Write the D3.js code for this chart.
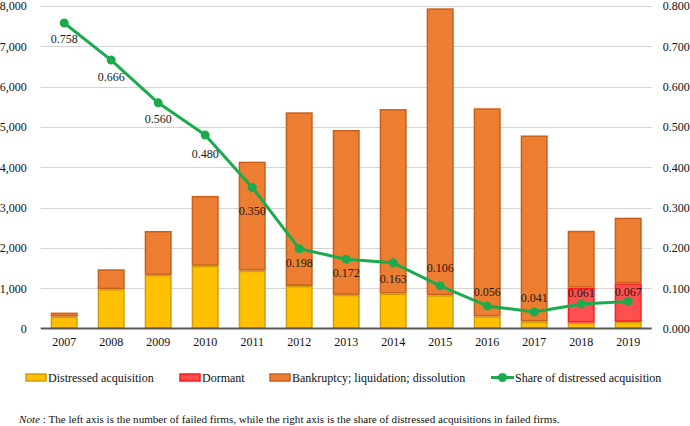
<!DOCTYPE html>
<html>
<head>
<meta charset="utf-8">
<script src="https://cdn.jsdelivr.net/npm/d3@7"></script>
<style>
  html, body { margin: 0; padding: 0; background: #fff; }
  svg { display: block; font-family: "Liberation Serif", "Times New Roman", serif; }
</style>
</head>
<body>
<svg id="chart" width="690" height="426"></svg>
<script>
// ---- data ----
const years = ["2007","2008","2009","2010","2011","2012","2013","2014","2015","2016","2017","2018","2019"];
const distressedAcquisition = [295, 975, 1330, 1555, 1435, 1055, 835, 865, 825, 300, 175, 145, 165];
const dormant = [0, 0, 0, 0, 0, 0, 0, 0, 0, 0, 0, 870, 955];
const bankruptcy = [100, 495, 1090, 1735, 2705, 4310, 4090, 4580, 7120, 5165, 4615, 1410, 1630];
const shareDistressed = [0.758, 0.666, 0.560, 0.480, 0.350, 0.198, 0.172, 0.163, 0.106, 0.056, 0.041, 0.061, 0.067];
const leftTicks = [0, 1000, 2000, 3000, 4000, 5000, 6000, 7000, 8000];
const rightTicks = [0, 0.1, 0.2, 0.3, 0.4, 0.5, 0.6, 0.7, 0.8];
const seriesNames = ["Distressed acquisition", "Dormant", "Bankruptcy; liquidation; dissolution"];
const lineName = "Share of distressed acquisition";

// ---- layout / style ----
const svg = d3.select("#chart");
const plot = { left: 40.7, right: 651.7, top: 6.1, bottom: 328.5 };
const fills = ["#FFC000", "#FF5050", "#ED7D31"];
const strokes = ["#D09E0A", "#FF1A1A", "#C8601C"];
const green = "#1CAB4C";
const fontFam = "'Liberation Serif', 'Times New Roman', serif";
// label vertical offsets (px, from marker centre to label centre)
const labelDy = [16, 17, 16, 19, 23, 14, 14, 16, -18, -14, -14, -11, -10];

const x = d3.scaleBand().domain(years).range([plot.left, plot.right]).paddingInner(0.425).paddingOuter(0.2125);
const yL = d3.scaleLinear().domain([0, 8000]).range([plot.bottom, plot.top]);
const yR = d3.scaleLinear().domain([0, 0.8]).range([plot.bottom, plot.top]);

// gridlines
svg.append("g").selectAll("line").data(leftTicks.filter(d => d > 0)).join("line")
  .attr("x1", plot.left).attr("x2", plot.right)
  .attr("y1", d => Math.round(yL(d)) + 0.5).attr("y2", d => Math.round(yL(d)) + 0.5)
  .attr("stroke", "#d4d4d4").attr("stroke-width", 1);

// left axis
const axL = svg.append("g").attr("transform", `translate(${plot.left},0)`)
  .call(d3.axisLeft(yL).tickValues(leftTicks).tickFormat(d3.format(",")).tickSize(0).tickPadding(14));
axL.attr("font-family", fontFam);
axL.select(".domain").remove();
axL.selectAll("text").attr("font-size", 12).attr("fill", "#111");

// right axis
const axR = svg.append("g").attr("transform", `translate(${plot.right},0)`)
  .call(d3.axisRight(yR).tickValues(rightTicks).tickFormat(d3.format(".3f")).tickSize(0).tickPadding(11));
axR.attr("font-family", fontFam);
axR.select(".domain").remove();
axR.selectAll("text").attr("font-size", 12).attr("fill", "#111");

// stacked bars
const rows = years.map((yr, i) => ({ year: yr, a: distressedAcquisition[i], d: dormant[i], b: bankruptcy[i] }));
const stack = d3.stack().keys(["a", "d", "b"])(rows);
svg.append("g").selectAll("g").data(stack).join("g")
  .attr("fill", (d, i) => fills[i]).attr("stroke", (d, i) => strokes[i]).attr("stroke-width", 1.5)
  .selectAll("rect").data(d => d.filter(s => s[1] - s[0] > 0)).join("rect")
  .attr("x", d => x(d.data.year) + 0.75)
  .attr("width", x.bandwidth() - 1.5)
  .attr("y", d => yL(d[1]) + 0.75)
  .attr("height", d => Math.max(0, yL(d[0]) - yL(d[1]) - 1.5));

// x axis baseline
svg.append("line").attr("x1", plot.left).attr("x2", plot.right)
  .attr("y1", plot.bottom).attr("y2", plot.bottom)
  .attr("stroke", "#595959").attr("stroke-width", 2);

const axB = svg.append("g").attr("transform", `translate(0,${plot.bottom})`)
  .call(d3.axisBottom(x).tickSize(0).tickPadding(9));
axB.attr("font-family", fontFam);
axB.select(".domain").remove();
axB.selectAll("text").attr("font-size", 12).attr("fill", "#111");

// line
const cx = (d, i) => x(years[i]) + x.bandwidth() / 2;
svg.append("path").datum(shareDistressed)
  .attr("fill", "none").attr("stroke", green).attr("stroke-width", 3).attr("stroke-linejoin", "round")
  .attr("d", d3.line().x(cx).y(d => yR(d)));
svg.append("g").selectAll("circle").data(shareDistressed).join("circle")
  .attr("cx", cx).attr("cy", d => yR(d)).attr("r", 4.5).attr("fill", green);
svg.append("g").selectAll("text").data(shareDistressed).join("text")
  .attr("x", cx).attr("y", (d, i) => yR(d) + labelDy[i])
  .attr("dy", "0.35em").attr("text-anchor", "middle")
  .attr("font-size", 12).attr("fill", "#1a1a1a")
  .text(d => d3.format(".3f")(d));

// legend
const legY = 377.5;
const legItems = [
  { name: seriesNames[0], x: 26, i: 0 },
  { name: seriesNames[1], x: 180, i: 1 },
  { name: seriesNames[2], x: 270, i: 2 }
];
const lg = svg.append("g");
legItems.forEach(it => {
  lg.append("rect").attr("x", it.x).attr("y", legY - 3.5).attr("width", 20).attr("height", 7)
    .attr("fill", fills[it.i]).attr("stroke", strokes[it.i]).attr("stroke-width", 1.5);
  lg.append("text").attr("x", it.x + 22).attr("y", legY).attr("dy", "0.35em")
    .attr("font-size", 12).attr("fill", "#111").text(it.name);
});
lg.append("line").attr("x1", 491).attr("x2", 514).attr("y1", legY).attr("y2", legY)
  .attr("stroke", green).attr("stroke-width", 3);
lg.append("circle").attr("cx", 502.5).attr("cy", legY).attr("r", 4.5).attr("fill", green);
lg.append("text").attr("x", 515).attr("y", legY).attr("dy", "0.35em")
  .attr("font-size", 12).attr("fill", "#111").text(lineName);

// note
const note = svg.append("text").attr("x", 19).attr("y", 419.5).attr("dy", "0.35em")
  .attr("font-size", 11.1).attr("fill", "#111");
note.append("tspan").attr("font-style", "italic").text("Note");
note.append("tspan").text(" : The left axis is the number of failed firms, while the right axis is the share of distressed acquisitions in failed firms.");
</script>
</body>
</html>
